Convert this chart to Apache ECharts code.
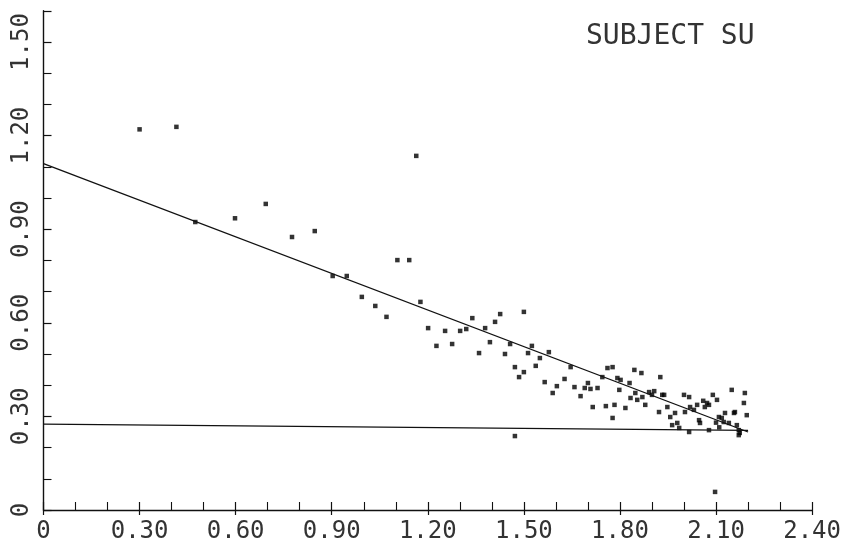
<!DOCTYPE html>
<html>
<head>
<meta charset="utf-8">
<script src="https://cdn.jsdelivr.net/npm/echarts@6/dist/echarts.min.js"></script>
<style>
  html, body { margin: 0; padding: 0; background: #fff; }
  #chart { width: 844px; height: 547px; }
</style>
</head>
<body>
<div id="chart"></div>
<script>
// ---- data ----
const titleText = 'SUBJECT SU';
const xTicks = [0, 0.3, 0.6, 0.9, 1.2, 1.5, 1.8, 2.1, 2.4];
const xTickLabels = ['0', '0.30', '0.60', '0.90', '1.20', '1.50', '1.80', '2.10', '2.40'];
const yTicks = [0, 0.3, 0.6, 0.9, 1.2, 1.5];
const yTickLabels = ['0', '0.30', '0.60', '0.90', '1.20', '1.50'];

const points = [
  [0.30,1.22],[0.415,1.228],[0.474,0.923],[0.598,0.935],[0.694,0.981],[0.776,0.875],
  [0.847,0.894],[0.903,0.75],[0.947,0.75],[0.994,0.683],[1.036,0.654],[1.071,0.619],
  [1.105,0.801],[1.142,0.801],[1.164,1.135],[1.177,0.667],[1.201,0.583],[1.227,0.526],
  [1.254,0.574],[1.276,0.532],[1.301,0.574],[1.32,0.58],[1.339,0.615],[1.36,0.503],
  [1.379,0.583],[1.394,0.538],[1.41,0.603],[1.426,0.628],[1.441,0.5],[1.457,0.532],
  [1.472,0.458],[1.485,0.426],[1.5,0.442],[1.5,0.635],[1.513,0.503],[1.525,0.526],
  [1.537,0.462],[1.55,0.487],[1.565,0.41],[1.578,0.506],[1.59,0.375],[1.603,0.397],
  [1.627,0.42],[1.646,0.458],[1.658,0.394],[1.677,0.365],[1.69,0.391],[1.70,0.407],
  [1.708,0.388],[1.715,0.33],[1.73,0.391],[1.745,0.426],[1.756,0.333],[1.761,0.455],
  [1.777,0.458],[1.777,0.295],[1.783,0.337],[1.792,0.423],[1.798,0.385],[1.802,0.417],
  [1.817,0.327],[1.83,0.407],[1.833,0.359],[1.845,0.449],[1.848,0.375],[1.854,0.353],
  [1.867,0.439],[1.87,0.362],[1.879,0.337],[1.891,0.378],[1.9,0.369],[1.907,0.381],
  [1.922,0.314],[1.926,0.426],[1.932,0.369],[1.938,0.369],[1.948,0.33],[1.957,0.298],
  [1.963,0.272],[1.972,0.311],[1.979,0.279],[1.985,0.263],[2.0,0.369],[2.003,0.314],
  [2.016,0.362],[2.016,0.25],[2.019,0.33],[2.031,0.321],[2.041,0.337],[2.047,0.288],
  [2.05,0.279],[2.06,0.35],[2.065,0.33],[2.072,0.343],[2.078,0.337],[2.078,0.256],
  [2.09,0.369],[2.097,0.058],[2.10,0.28],[2.103,0.353],[2.109,0.298],[2.11,0.265],
  [2.118,0.295],[2.124,0.282],[2.128,0.311],[2.14,0.279],[2.149,0.385],[2.156,0.311],
  [2.159,0.314],[2.165,0.272],[2.171,0.256],[2.171,0.24],[2.174,0.247],[2.187,0.343],
  [2.19,0.375],[2.196,0.304],[1.472,0.237]
];

const fitLine = [[0, 1.11], [2.2, 0.25]];
const baseLine = [[0, 0.275], [2.2, 0.255]];

// ---- chart ----
const ink = '#111111';
const textInk = '#333333';
const labelFont = 'DejaVu Sans Mono';

function labelFor(ticks, labels) {
  return function (v) {
    for (let i = 0; i < ticks.length; i++) {
      if (Math.abs(v - ticks[i]) < 1e-6) return labels[i];
    }
    return '';
  };
}

const chart = echarts.init(document.getElementById('chart'), null, { renderer: 'canvas' });
chart.setOption({
  backgroundColor: '#ffffff',
  animation: false,
  title: {
    text: titleText,
    left: 586,
    top: 23,
    padding: 0,
    textStyle: { fontFamily: labelFont, fontSize: 28, fontWeight: 'normal', color: textInk }
  },
  grid: { left: 43.5, right: 29, top: 10.8, bottom: 37, containLabel: false },
  xAxis: [{
    type: 'value', min: 0, max: 2.4, interval: 0.3,
    axisLine: { show: true, lineStyle: { color: ink, width: 1.4 } },
    axisTick: { show: true, inside: true, length: 8, lineStyle: { color: ink, width: 1.2 } },
    minorTick: { show: true, splitNumber: 3, length: 8, lineStyle: { color: ink, width: 1.1 } },
    splitLine: { show: false },
    axisLabel: {
      margin: 10, fontFamily: labelFont, fontSize: 24, color: textInk,
      formatter: labelFor(xTicks, xTickLabels), showMaxLabel: true, showMinLabel: true
    }
  }, {
    type: 'value', min: 0, max: 2.4, interval: 0.3, position: 'bottom', offset: 0,
    axisLine: { show: false },
    axisTick: { show: true, inside: false, length: 5, lineStyle: { color: ink, width: 1.2 } },
    splitLine: { show: false },
    axisLabel: { show: false }
  }],
  yAxis: [{
    type: 'value', min: 0, max: 1.6, interval: 0.3,
    axisLine: { show: true, lineStyle: { color: ink, width: 1.4 } },
    axisTick: { show: true, inside: true, length: 8, lineStyle: { color: ink, width: 1.2 } },
    minorTick: { show: true, splitNumber: 3, length: 8, lineStyle: { color: ink, width: 1.1 } },
    splitLine: { show: false },
    axisLabel: {
      rotate: 90, margin: 10, fontFamily: labelFont, fontSize: 24, color: textInk,
      formatter: labelFor(yTicks, yTickLabels), showMaxLabel: false
    }
  }],
  series: [{
    type: 'scatter',
    data: points,
    symbol: 'rect',
    symbolSize: [4.5, 4.5],
    itemStyle: { color: '#000000' },
    silent: true
  }, {
    type: 'line',
    data: fitLine,
    symbol: 'none',
    lineStyle: { color: ink, width: 1.3 },
    silent: true
  }, {
    type: 'line',
    data: baseLine,
    symbol: 'none',
    lineStyle: { color: ink, width: 1.3 },
    silent: true
  }]
});
</script>
</body>
</html>
